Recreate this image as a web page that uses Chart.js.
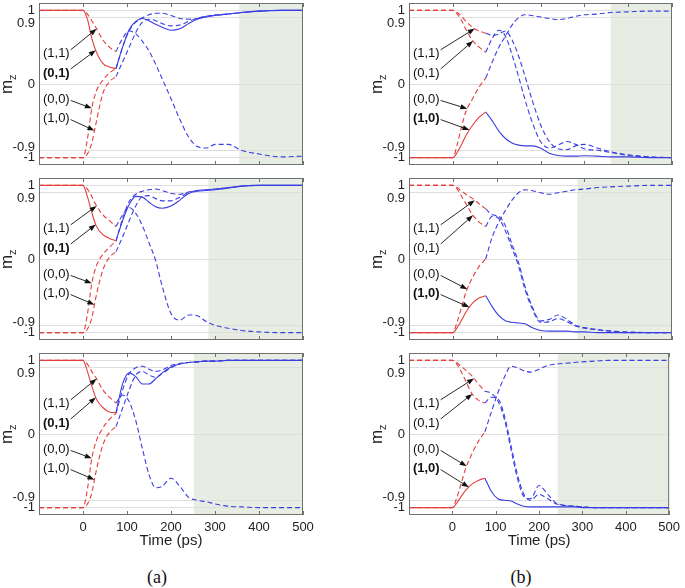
<!DOCTYPE html>
<html>
<head>
<meta charset="utf-8">
<script src="https://cdn.jsdelivr.net/npm/chart.js@4.4.1/dist/chart.umd.min.js"></script>
<style>
  body { margin: 0; background: #fff; width: 685px; height: 588px; position: relative; overflow: hidden; }
  canvas { position: absolute; }
  .cap { position: absolute; top: 567px; line-height: 20px; font: 18px "Liberation Serif", "Times New Roman", serif; color: #111; transform: translateX(-50%); }
</style>
</head>
<body>
<canvas id="a1"></canvas><canvas id="b1"></canvas>
<canvas id="a2"></canvas><canvas id="b2"></canvas>
<canvas id="a3"></canvas><canvas id="b3"></canvas>
<div class="cap" style="left:157px">(a)</div>
<div class="cap" style="left:521px">(b)</div>
<script>
// time axis (ps), shared by every curve
const T = [-100, 0, 10, 20, 30, 45, 60, 75, 90, 105, 120, 135, 150, 165, 180, 200, 220, 240, 260, 280, 300, 330, 360, 400, 450, 500];

// column (a): curves (1,1), (0,1), (0,0), (1,0)
const a1_11 = [1, 1, 0.95, 0.86, 0.76, 0.6, 0.5, 0.44, 0.62, 0.72, 0.68, 0.58, 0.45, 0.27, 0.07, -0.2, -0.48, -0.72, -0.85, -0.87, -0.82, -0.82, -0.9, -0.95, -0.99, -0.98];
const a1_01 = [1, 1, 0.88, 0.62, 0.44, 0.28, 0.23, 0.21, 0.5, 0.74, 0.85, 0.89, 0.86, 0.81, 0.77, 0.73, 0.75, 0.82, 0.88, 0.91, 0.93, 0.95, 0.97, 0.99, 1, 1];
const a1_00 = [-1, -1, -0.75, -0.33, -0.1, 0.05, 0.15, 0.21, 0.5, 0.72, 0.84, 0.9, 0.94, 0.96, 0.96, 0.93, 0.89, 0.88, 0.89, 0.92, 0.93, 0.95, 0.97, 0.99, 1, 1];
const a1_10 = [-1, -1, -0.95, -0.8, -0.52, -0.13, 0.03, 0.1, 0.3, 0.5, 0.7, 0.84, 0.88, 0.86, 0.82, 0.79, 0.8, 0.85, 0.89, 0.92, 0.94, 0.95, 0.97, 0.99, 1, 1];

const a2_11 = [1, 1, 0.95, 0.85, 0.73, 0.6, 0.52, 0.44, 0.6, 0.7, 0.62, 0.45, 0.22, -0.02, -0.37, -0.74, -0.83, -0.76, -0.77, -0.85, -0.9, -0.94, -0.97, -0.99, -1, -1];
const a2_01 = [1, 1, 0.85, 0.63, 0.45, 0.33, 0.28, 0.25, 0.52, 0.74, 0.85, 0.84, 0.77, 0.71, 0.69, 0.72, 0.8, 0.89, 0.92, 0.93, 0.94, 0.96, 0.99, 1, 1, 1];
const a2_00 = [-1, -1, -0.75, -0.33, -0.1, 0.06, 0.16, 0.24, 0.55, 0.78, 0.88, 0.92, 0.94, 0.95, 0.93, 0.89, 0.88, 0.91, 0.93, 0.94, 0.95, 0.97, 0.99, 1, 1, 1];
const a2_10 = [-1, -1, -0.95, -0.8, -0.5, -0.15, 0.02, 0.1, 0.3, 0.52, 0.72, 0.85, 0.86, 0.82, 0.79, 0.79, 0.84, 0.9, 0.93, 0.94, 0.95, 0.97, 0.99, 1, 1, 1];

const a3_11 = [1, 1, 0.95, 0.85, 0.76, 0.6, 0.5, 0.42, 0.53, 0.44, 0.18, -0.2, -0.55, -0.73, -0.71, -0.6, -0.71, -0.86, -0.9, -0.92, -0.95, -0.98, -0.99, -1, -1, -1];
const a3_01 = [1, 1, 0.85, 0.65, 0.48, 0.36, 0.3, 0.29, 0.68, 0.83, 0.78, 0.68, 0.68, 0.75, 0.83, 0.91, 0.95, 0.97, 0.98, 0.99, 0.99, 1, 1, 1, 1, 1];
const a3_00 = [-1, -1, -0.75, -0.33, -0.1, 0.08, 0.2, 0.28, 0.6, 0.82, 0.9, 0.92, 0.88, 0.85, 0.87, 0.93, 0.96, 0.97, 0.98, 0.99, 0.99, 1, 1, 1, 1, 1];
const a3_10 = [-1, -1, -0.95, -0.8, -0.5, -0.15, 0.02, 0.1, 0.35, 0.6, 0.8, 0.85, 0.8, 0.77, 0.82, 0.9, 0.95, 0.97, 0.98, 0.99, 0.99, 1, 1, 1, 1, 1];

// column (b)
const b1_11 = [1, 1, 0.97, 0.92, 0.85, 0.77, 0.72, 0.69, 0.66, 0.68, 0.72, 0.6, 0.38, 0.1, -0.2, -0.55, -0.78, -0.88, -0.89, -0.84, -0.82, -0.87, -0.92, -0.96, -0.99, -1];
const b1_01 = [1, 1, 0.95, 0.86, 0.74, 0.59, 0.5, 0.43, 0.62, 0.73, 0.65, 0.4, 0.1, -0.22, -0.5, -0.78, -0.87, -0.83, -0.78, -0.82, -0.88, -0.9, -0.93, -0.97, -0.99, -1];
const b1_00 = [-1, -1, -0.82, -0.58, -0.37, -0.2, -0.04, 0.08, 0.3, 0.5, 0.65, 0.8, 0.9, 0.94, 0.93, 0.91, 0.89, 0.875, 0.89, 0.92, 0.94, 0.95, 0.97, 0.98, 0.99, 0.99];
const b1_10 = [-1, -1, -0.93, -0.82, -0.7, -0.56, -0.45, -0.38, -0.5, -0.64, -0.74, -0.8, -0.83, -0.84, -0.84, -0.87, -0.94, -0.97, -0.98, -0.98, -0.975, -0.98, -0.99, -0.99, -1, -1];

const b2_11 = [1, 1, 0.97, 0.92, 0.88, 0.82, 0.75, 0.68, 0.6, 0.58, 0.45, 0.2, -0.05, -0.38, -0.63, -0.84, -0.82, -0.76, -0.82, -0.9, -0.93, -0.96, -0.98, -0.99, -1, -1];
const b2_01 = [1, 1, 0.95, 0.85, 0.75, 0.6, 0.5, 0.44, 0.58, 0.55, 0.38, 0.15, -0.1, -0.42, -0.66, -0.86, -0.85, -0.81, -0.85, -0.91, -0.94, -0.96, -0.98, -1, -1, -1];
const b2_00 = [-1, -1, -0.85, -0.65, -0.45, -0.25, -0.1, 0, 0.3, 0.5, 0.66, 0.8, 0.9, 0.94, 0.93, 0.9, 0.88, 0.9, 0.92, 0.94, 0.95, 0.97, 0.98, 0.99, 1, 1];
const b2_10 = [-1, -1, -0.93, -0.83, -0.72, -0.6, -0.53, -0.5, -0.65, -0.77, -0.84, -0.86, -0.87, -0.88, -0.93, -0.97, -0.98, -0.98, -0.98, -0.99, -0.99, -1, -1, -1, -1, -1];

const b3_11 = [1, 1, 0.97, 0.92, 0.87, 0.79, 0.68, 0.58, 0.55, 0.45, 0.2, -0.2, -0.6, -0.85, -0.88, -0.7, -0.82, -0.94, -0.97, -0.98, -0.99, -1, -1, -1, -1, -1];
const b3_01 = [1, 1, 0.95, 0.85, 0.73, 0.55, 0.46, 0.42, 0.5, 0.48, 0.25, -0.15, -0.55, -0.82, -0.9, -0.82, -0.88, -0.95, -0.97, -0.98, -0.99, -1, -1, -1, -1, -1];
const b3_00 = [-1, -1, -0.87, -0.68, -0.48, -0.27, -0.1, 0.03, 0.3, 0.56, 0.77, 0.92, 0.9, 0.86, 0.84, 0.88, 0.93, 0.95, 0.96, 0.97, 0.98, 0.99, 1, 1, 1, 1];
const b3_10 = [-1, -1, -0.94, -0.85, -0.77, -0.68, -0.63, -0.6, -0.78, -0.88, -0.9, -0.91, -0.95, -0.98, -0.99, -0.99, -0.99, -0.99, -0.99, -0.99, -1, -1, -1, -1, -1, -1];

const LABELS = ['(1,1)', '(0,1)', '(0,0)', '(1,0)'];
const LABEL_M = [0.41, 0.15, -0.21, -0.47];   // label height in m_z units
const TIP_T_A = [31, 29, 20, 26];             // arrow tips (time on the curve)
const TIP_T_B = [50, 46, 33, 38];
const Y_TICKS = [1, 0.9, 0, -0.9, -1];
const X_TICKS = [0, 100, 200, 300, 400, 500];
const SHADE_A = [355, 285, 252];              // start of shaded region per row
const SHADE_B = [360, 284, 243];
const PULSE_END = 75;

const RED = 'rgb(228, 62, 58)';
const BLUE = 'rgb(58, 62, 226)';
const FONT = '"Liberation Sans", Arial, Helvetica, sans-serif';
const BOX = '#707070';

const panels = [
  { id: 'a1', col: 0, row: 0, curves: [a1_11, a1_01, a1_00, a1_10] },
  { id: 'b1', col: 1, row: 0, curves: [b1_11, b1_01, b1_00, b1_10] },
  { id: 'a2', col: 0, row: 1, curves: [a2_11, a2_01, a2_00, a2_10] },
  { id: 'b2', col: 1, row: 1, curves: [b2_11, b2_01, b2_00, b2_10] },
  { id: 'a3', col: 0, row: 2, curves: [a3_11, a3_01, a3_00, a3_10] },
  { id: 'b3', col: 1, row: 2, curves: [b3_11, b3_01, b3_00, b3_10] }
];

function interp(vals, t) {
  for (let i = 1; i < T.length; i++) {
    if (t <= T[i]) {
      const f = (t - T[i - 1]) / (T[i] - T[i - 1]);
      return vals[i - 1] + f * (vals[i] - vals[i - 1]);
    }
  }
  return vals[vals.length - 1];
}

function arrow(ctx, x0, y0, x1, y1) {
  const a = Math.atan2(y1 - y0, x1 - x0);
  const hl = 7, hw = 2.6;
  ctx.beginPath();
  ctx.moveTo(x0, y0);
  ctx.lineTo(x1 - hl * Math.cos(a), y1 - hl * Math.sin(a));
  ctx.stroke();
  ctx.beginPath();
  ctx.moveTo(x1, y1);
  ctx.lineTo(x1 - hl * Math.cos(a) + hw * Math.sin(a), y1 - hl * Math.sin(a) - hw * Math.cos(a));
  ctx.lineTo(x1 - hl * Math.cos(a) - hw * Math.sin(a), y1 - hl * Math.sin(a) + hw * Math.cos(a));
  ctx.closePath();
  ctx.fill();
}

panels.forEach(p => {
  const canvas = document.getElementById(p.id);
  const left = p.col === 0 ? 0 : 370;
  const width = p.col === 0 ? 320 : 315;
  const top = [0, 175, 350][p.row];
  const height = p.row < 2 ? 170 : 200;
  canvas.width = width; canvas.height = height;
  canvas.style.left = left + 'px'; canvas.style.top = top + 'px';

  const solidIdx = p.col === 0 ? 1 : 3;
  const shade = (p.col === 0 ? SHADE_A : SHADE_B)[p.row];
  const tips = p.col === 0 ? TIP_T_A : TIP_T_B;
  const bottomRow = p.row === 2;

  const datasets = [];
  p.curves.forEach((vals, k) => {
    const red = [], blue = [];
    T.forEach((t, i) => {
      if (t <= PULSE_END) red.push({ x: t, y: vals[i] });
      if (t >= PULSE_END) blue.push({ x: t, y: vals[i] });
    });
    const dash = k === solidIdx ? [] : [5, 3];
    [[red, RED], [blue, BLUE]].forEach(([data, color]) => {
      datasets.push({
        data, borderColor: color, borderWidth: 1.1, borderDash: dash,
        pointRadius: 0, fill: false, cubicInterpolationMode: 'monotone'
      });
    });
  });

  const decor = {
    id: 'decor' + p.id,
    beforeDraw(chart) {
      const { ctx, chartArea: ca, scales: { x } } = chart;
      const xs = x.getPixelForValue(shade);
      ctx.save();
      ctx.fillStyle = 'rgb(231, 237, 227)';
      ctx.fillRect(xs, ca.top, ca.right - xs, ca.bottom - ca.top);
      ctx.restore();
    },
    afterDraw(chart) {
      const { ctx, chartArea: ca, scales: { x, y } } = chart;
      ctx.save();
      // box
      ctx.strokeStyle = BOX;
      ctx.lineWidth = 1;
      ctx.strokeRect(ca.left + 0.5, ca.top + 0.5, ca.right - ca.left - 1, ca.bottom - ca.top - 1);
      // inward x ticks
      ctx.beginPath();
      X_TICKS.forEach(v => {
        const px = Math.round(x.getPixelForValue(v)) + 0.5;
        ctx.moveTo(px, ca.top); ctx.lineTo(px, ca.top + 4);
        ctx.moveTo(px, ca.bottom); ctx.lineTo(px, ca.bottom - 4);
      });
      ctx.stroke();
      // y tick labels
      ctx.fillStyle = '#222';
      ctx.font = '13px ' + FONT;
      ctx.textAlign = 'right';
      ctx.textBaseline = 'middle';
      Y_TICKS.forEach(v => {
        const nudge = v === 0.9 ? 6 : (v === -0.9 ? -3 : 0);
        ctx.fillText(String(v), ca.left - 4, y.getPixelForValue(v) + nudge);
      });
      // y label m_z
      const yc = (ca.top + ca.bottom) / 2;
      ctx.translate(ca.left - 32, yc);
      ctx.rotate(-Math.PI / 2);
      ctx.textAlign = 'left';
      ctx.font = '17px ' + FONT;
      const wm = ctx.measureText('m').width;
      ctx.fillText('m', -(wm + 6) / 2, 0);
      ctx.font = '11px ' + FONT;
      ctx.fillText('z', -(wm + 6) / 2 + wm, 6);
      ctx.setTransform(1, 0, 0, 1, 0, 0);
      // labels with arrows
      ctx.fillStyle = '#111';
      ctx.strokeStyle = '#111';
      ctx.textAlign = 'left';
      LABELS.forEach((text, k) => {
        ctx.font = (k === solidIdx ? 'bold ' : '') + '13px ' + FONT;
        const lx = x.getPixelForValue(-91);
        const ly = y.getPixelForValue(LABEL_M[k]);
        ctx.fillText(text, lx, ly);
        const w = ctx.measureText(text).width;
        const tx = x.getPixelForValue(tips[k]);
        const ty = y.getPixelForValue(interp(p.curves[k], tips[k]));
        ctx.lineWidth = 0.9;
        arrow(ctx, lx + w + 1, ly + (ty < ly ? -4 : 1), tx, ty);
      });
      ctx.restore();
    }
  };

  new Chart(canvas.getContext('2d'), {
    type: 'line',
    data: { datasets },
    options: {
      responsive: false,
      animation: false,
      devicePixelRatio: 1,
      layout: { padding: { left: 0, right: width - (p.col === 0 ? 303 : 302), top: 3, bottom: 0 } },
      plugins: { legend: { display: false }, tooltip: { enabled: false } },
      scales: {
        x: {
          type: 'linear', min: -100, max: 500,
          afterBuildTicks: s => { s.ticks = X_TICKS.map(v => ({ value: v })); },
          afterFit: s => { s.height = bottomRow ? 35 : 5; },
          grid: { display: false, drawTicks: false },
          border: { display: false },
          ticks: { display: bottomRow, autoSkip: false, maxRotation: 0, padding: 5, color: '#222', font: { size: 13, family: FONT } },
          title: { display: bottomRow, text: 'Time (ps)', color: '#222', padding: 0, font: { size: 15, family: FONT } }
        },
        y: {
          min: -1.1, max: 1.1,
          afterBuildTicks: s => { s.ticks = Y_TICKS.map(v => ({ value: v })); },
          afterFit: s => { s.width = 39; },
          grid: { color: 'rgb(222, 222, 222)', drawTicks: false },
          border: { display: false },
          ticks: { display: false }
        }
      }
    },
    plugins: [decor]
  });
});
</script>
</body>
</html>
